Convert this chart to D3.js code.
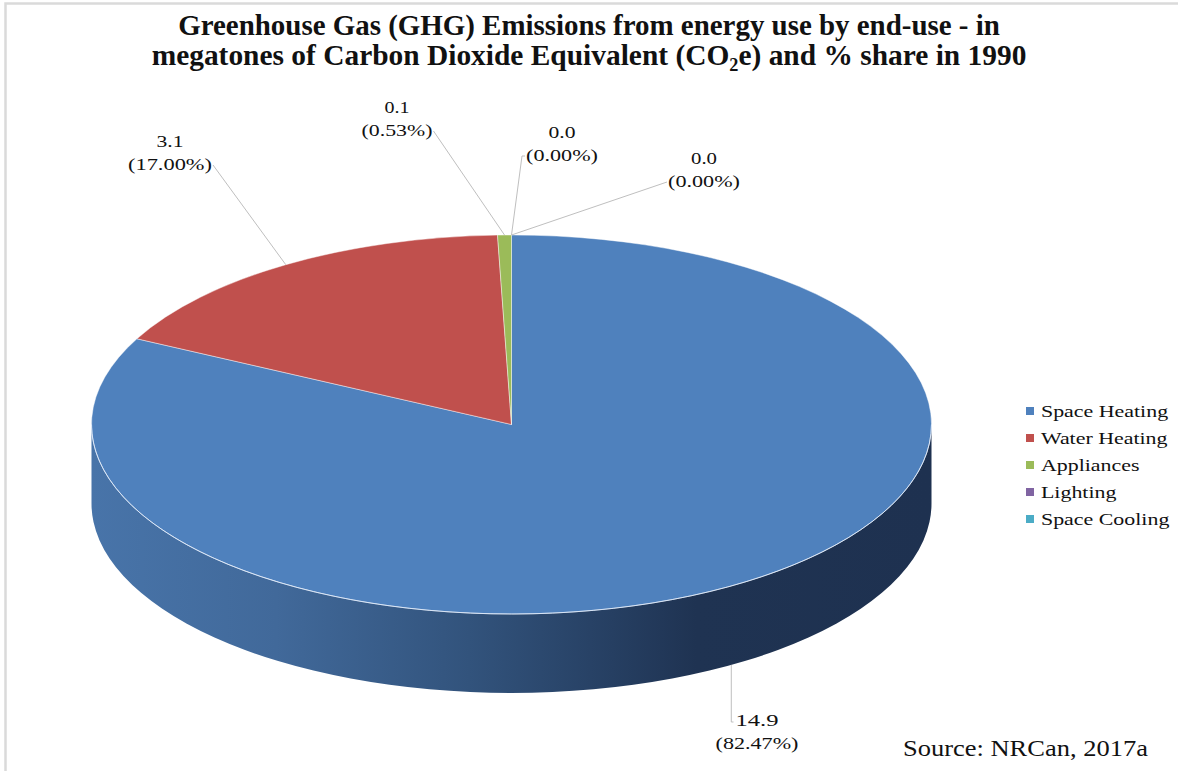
<!DOCTYPE html>
<html>
<head>
<meta charset="utf-8">
<script src="https://cdn.jsdelivr.net/npm/d3@7/dist/d3.min.js"></script>
<style>
  html, body { margin: 0; padding: 0; background: #fff; }
  svg text { font-family: "Liberation Serif", "Times New Roman", Times, "DejaVu Serif", serif; }
</style>
</head>
<body>
<svg id="chart" width="1178" height="771"></svg>
<script>
// ---------------- DATA ----------------
const categories = ["Space Heating", "Water Heating", "Appliances", "Lighting", "Space Cooling"];
const values     = [14.9, 3.1, 0.1, 0.0, 0.0];          // Mt CO2e
const shares     = [82.47, 17.00, 0.53, 0.00, 0.00];   // % share
const colors     = ["#4f81bd", "#c0504d", "#9bbb59", "#8064a2", "#4bacc6"];
const titleLines = ["Greenhouse Gas (GHG) Emissions from energy use by end-use - in",
                    ["megatones of Carbon Dioxide Equivalent (CO", "2", "e) and % share in 1990"]];
const sourceText = "Source: NRCan, 2017a";

// ---------------- LAYOUT ----------------
const W = 1178, H = 771;
const FONT = "'Liberation Serif', 'Times New Roman', Times, 'DejaVu Serif', serif";
const cx = 511.5, cy = 424.5, rx = 420, ry = 189.5, depth = 79;
const labelLayout = [
  { x: 757, y: 726, w1: 43, w2: 83, side: "elbow" },
  { x: 170, y: 147, w1: 27, w2: 84, side: "right" },
  { x: 397, y: 113, w1: 25, w2: 71, side: "right" },
  { x: 562, y: 138, w1: 27, w2: 72, side: "lefthook" },
  { x: 704, y: 164, w1: 26, w2: 72, side: "left" }
];

const svg = d3.select("#chart").attr("font-family", FONT);

const xs = d3.scaleLinear().domain([-1, 1]).range([cx - rx, cx + rx]);
const ys = d3.scaleLinear().domain([-1, 1]).range([cy - ry, cy + ry]);
const color = d3.scaleOrdinal().domain(categories).range(colors);
const pt = (a, dy = 0) => [xs(Math.sin(a)), ys(-Math.cos(a)) + dy];

const data = categories.map((c, i) => ({ cat: c, value: values[i], share: shares[i], i }));
const arcs = d3.pie().sort(null).value(d => d.share)(data);

const defs = svg.append("defs");
const grad = defs.append("linearGradient").attr("id", "sideGrad")
  .attr("gradientUnits", "userSpaceOnUse")
  .attr("x1", cx - rx).attr("x2", cx + rx).attr("y1", 0).attr("y2", 0);
[[0, "#4874a9"], [0.22, "#41699a"], [0.45, "#32537c"], [0.62, "#263f62"], [0.72, "#1f3352"], [1, "#1e3150"]]
  .forEach(([o, c]) => grad.append("stop").attr("offset", o).attr("stop-color", c));

const sideG = svg.append("g");
arcs.forEach(a => {
  const s = Math.max(a.startAngle, Math.PI / 2), e = Math.min(a.endAngle, 3 * Math.PI / 2);
  if (e <= s) return;
  const p0 = pt(s), p1 = pt(e), q1 = pt(e, depth), q0 = pt(s, depth);
  const large = (e - s) > Math.PI ? 1 : 0;
  const d = `M${p0}A${rx},${ry} 0 ${large} 1 ${p1}L${q1}A${rx},${ry} 0 ${large} 0 ${q0}Z`;
  sideG.append("path").attr("d", d)
    .attr("fill", a.index === 0 ? "url(#sideGrad)" : d3.color(color(a.data.cat)).darker(1.2));
});

const topG = svg.append("g");
arcs.forEach(a => {
  if (a.endAngle - a.startAngle <= 0) return;
  const p0 = pt(a.startAngle), p1 = pt(a.endAngle);
  const large = (a.endAngle - a.startAngle) > Math.PI ? 1 : 0;
  topG.append("path")
    .attr("d", `M${cx},${cy}L${p0}A${rx},${ry} 0 ${large} 1 ${p1}Z`)
    .attr("fill", color(a.data.cat))
    .attr("stroke", "rgba(255,255,255,0.55)")
    .attr("stroke-width", 0.8)
    .attr("stroke-linejoin", "round");
});
svg.append("path")
  .attr("d", `M${pt(Math.PI / 2)}A${rx},${ry} 0 0 1 ${pt(3 * Math.PI / 2)}`)
  .attr("fill", "none").attr("stroke", "rgba(225,235,250,0.85)").attr("stroke-width", 1);

function fit(sel, target) {
  const w = sel.node().getBBox().width;
  if (!w) return;
  const k = target / w;
  const x = +sel.attr("x");
  sel.attr("transform", `translate(${x},0) scale(${k},1) translate(${-x},0)`);
}

const leadG = svg.append("g");
const lblG = svg.append("g").attr("font-size", 16).attr("fill", "#111").attr("font-family", FONT);
arcs.forEach(a => {
  const L = labelLayout[a.index];
  const t1 = lblG.append("text").attr("x", L.x).attr("y", L.y).attr("text-anchor", "middle")
    .attr("font-family", FONT).text(d3.format(".1f")(a.data.value));
  const t2 = lblG.append("text").attr("x", L.x).attr("y", L.y + 23).attr("text-anchor", "middle")
    .attr("font-family", FONT).text(`(${d3.format(".2f")(a.data.share)}%)`);
  fit(t1, L.w1); fit(t2, L.w2);
  const mid = (a.startAngle + a.endAngle) / 2;
  const front = Math.cos(mid) < 0;
  const anchor = pt(mid, front ? depth : 0);
  let pts;
  const midY2 = L.y + 23 - 5;
  if (L.side === "right") pts = [[L.x + L.w2 / 2 + 1, midY2], anchor];
  else if (L.side === "left") pts = [[L.x - L.w2 / 2 - 1, midY2], anchor];
  else if (L.side === "lefthook") pts = [[L.x - L.w2 / 2 - 1, midY2], [L.x - L.w2 / 2 - 4, midY2], anchor];
  else pts = [anchor, [anchor[0], L.y - 4], [L.x - L.w1 / 2 - 2, L.y - 4]];
  leadG.append("path").attr("d", d3.line()(pts))
    .attr("fill", "none").attr("stroke", "#bfbfbf").attr("stroke-width", 1);
});

const ly = d3.scalePoint().domain(categories).range([411, 519]);
const legG = svg.append("g").attr("font-size", 16).attr("fill", "#111");
categories.forEach(c => {
  legG.append("rect").attr("x", 1026).attr("y", ly(c) - 4).attr("width", 8).attr("height", 8)
    .attr("fill", color(c));
  const t = legG.append("text").attr("x", 1041).attr("y", ly(c) + 6).attr("font-family", FONT).text(c);
  fit(t, t.node().getBBox().width * 1.37);
});

const tG = svg.append("g").attr("font-size", 29).attr("font-weight", "bold").attr("fill", "#111");
const tl1 = tG.append("text").attr("x", 589).attr("y", 35).attr("text-anchor", "middle")
  .attr("font-family", FONT).text(titleLines[0]);
const tl2 = tG.append("text").attr("x", 589).attr("y", 65).attr("text-anchor", "middle")
  .attr("font-family", FONT);
tl2.append("tspan").text(titleLines[1][0]);
tl2.append("tspan").attr("font-size", 18).attr("dy", 6).text(titleLines[1][1]);
tl2.append("tspan").attr("dy", -6).text(titleLines[1][2]);
fit(tl1, 822); fit(tl2, 875);

const src = svg.append("text").attr("x", 903).attr("y", 756).attr("font-size", 23).attr("fill", "#111")
  .attr("font-family", FONT).text(sourceText);
fit(src, 245);

svg.append("path").attr("d", `M5.5,${H}L5.5,3.5L${W},3.5`)
  .attr("fill", "none").attr("stroke", "#dadada").attr("stroke-width", 2.5);
</script>
</body>
</html>
